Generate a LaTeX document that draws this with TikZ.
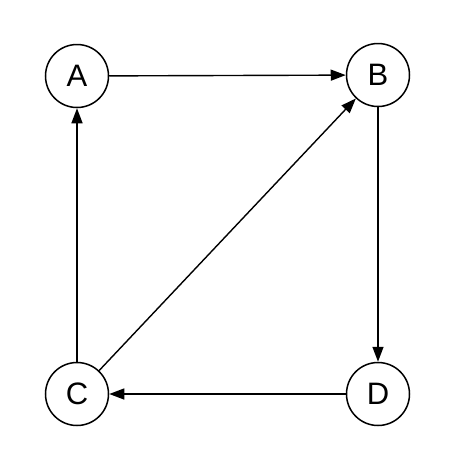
\documentclass[tikz,border=0pt]{standalone}
\usepackage{fontspec}
\setmainfont{Liberation Sans}
\usetikzlibrary{shapes,arrows.meta,positioning}
\tikzstyle{vertex} = [circle, draw, line width = 1.5pt, minimum size = 63pt, inner sep = 0pt, font = \fontsize{31}{31}\selectfont]
\tikzstyle{line2} = [draw, line width = 1.4pt, -{Triangle[length = 15pt, width = 11pt]}]

\begin{document}
\begin{tikzpicture}[x = 1pt, y = -1pt]
	\useasboundingbox (0, 0) rectangle (454, 472);
	% Place nodes
	\node [vertex] (A) at (77, 76) {A};
	\node [vertex] (B) at (378, 75) {B};
	\node [vertex] (C) at (77, 394) {C};
	\node [vertex] (D) at (378, 394) {D};
	% Draw edges
	\path [line2] (A) -- (B);
	\path [line2] (B) -- (D);
	\path [line2] (D) -- (C);
	\path [line2] (C) -- (A);
	\path [line2] (C) -- (B);
\end{tikzpicture}
\end{document}
